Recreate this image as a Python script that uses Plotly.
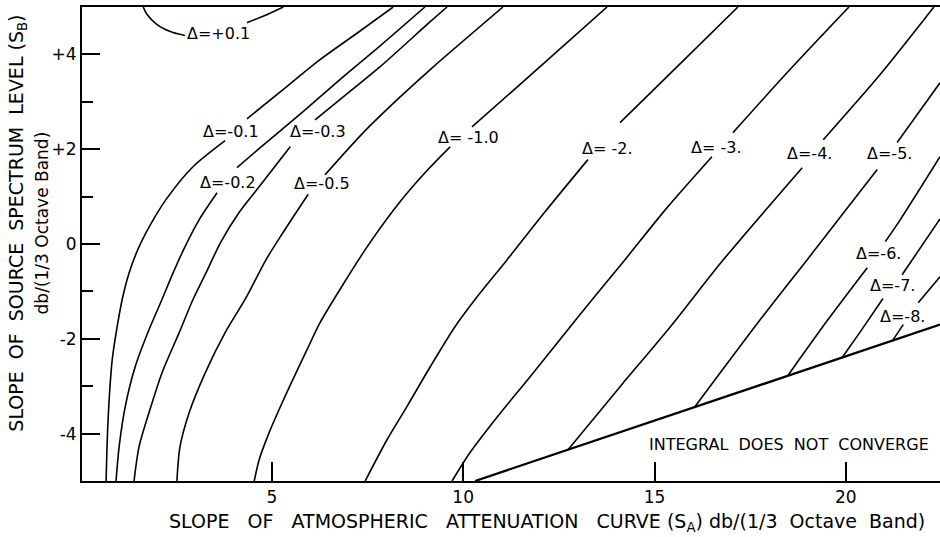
import plotly.graph_objects as go

# x: slope of atmospheric attenuation curve S_A ; y: slope of source spectrum level S_B
# None marks the gap where the curve label sits
P01_X = [1.64, 1.74, 2.00, 2.42, 2.73, None, 4.35, 4.82, 5.30]
P01_Y = [5.00, 4.84, 4.63, 4.46, 4.40, None, 4.67, 4.82, 5.00]

M01_X = [0.67, 0.70, 0.75, 0.83, 0.96, 1.09, 1.27, 1.53, 1.90, 2.29, 2.94, 3.78, None, 4.35, 5.22, 6.26, 7.18, 8.17]
M01_Y = [-5.0, -4.13, -3.28, -2.44, -1.74, -1.17, -0.61, -0.06, 0.51, 1.00, 1.63, 2.18, None, 2.64, 3.21, 3.89, 4.42, 5.0]

M02_X = [0.93, 1.01, 1.17, 1.43, 1.79, 2.13, 2.42, 2.73, 3.10, 3.57, None, 4.09, 4.75, 5.74, 6.78, 7.83, 9.00]
M02_Y = [-5.0, -4.28, -3.43, -2.59, -1.81, -1.17, -0.61, -0.06, 0.51, 1.08, None, 1.61, 2.07, 2.74, 3.47, 4.18, 5.0]

M03_X = [1.40, 1.53, 1.79, 2.13, 2.58, 2.94, 3.28, 3.66, 4.14, 4.75, 5.48, None, 6.13, 6.97, 7.83, 9.14, 9.58]
M03_Y = [-5.0, -4.28, -3.56, -2.72, -1.87, -1.17, -0.61, 0.03, 0.66, 1.29, 2.05, None, 2.62, 3.17, 3.74, 4.69, 5.0]

M05_X = [2.52, 2.60, 2.84, 3.26, 3.78, 4.30, 4.85, 5.22, 5.95, None, 6.39, 7.39, 8.27, 9.14, 11.04]
M05_Y = [-5.0, -4.28, -3.56, -2.72, -1.87, -1.17, -0.33, 0.15, 1.05, None, 1.46, 2.35, 3.04, 3.68, 5.0]

M10_X = [4.54, 4.67, 4.93, 5.27, 5.92, 6.26, 6.78, 7.49, 8.33, 9.08, 9.66, None, 10.23, 12.01, 13.76]
M10_Y = [-5.0, -4.55, -3.98, -3.35, -2.23, -1.66, -0.96, -0.06, 0.87, 1.57, 2.05, None, 2.47, 3.74, 5.0]

M2_X = [7.44, 8.01, 8.53, 9.14, 9.79, 10.31, 11.15, 12.14, 13.26, None, 14.10, 15.64, 17.18]
M2_Y = [-5.0, -4.13, -3.43, -2.59, -1.74, -1.17, -0.33, 0.68, 1.78, None, 2.56, 3.78, 5.0]

M3_X = [9.71, 10.18, 10.89, 11.75, 12.98, 14.23, 15.28, 16.50, None, 17.05, 18.54, 20.08]
M3_Y = [-5.0, -4.40, -3.65, -2.80, -1.56, -0.33, 0.72, 1.84, None, 2.35, 3.68, 5.0]

M4_X = [12.74, 14.10, 15.42, 16.76, 18.86, None, 19.41, 20.89, 22.30]
M4_Y = [-4.34, -3.01, -1.74, -0.37, 1.61, None, 2.20, 3.57, 5.0]

M5_X = [16.06, 17.76, 18.99, 19.80, 20.82, None, 21.34, 22.46]
M5_Y = [-3.43, -1.60, -0.33, 0.51, 1.57, None, 2.14, 3.40]

M6_X = [18.49, 19.51, 20.56, None, 21.03, 21.42, 22.46]
M6_Y = [-2.77, -1.62, -0.50, None, 0.05, 0.51, 1.84]

M7_X = [19.90, 20.43, 20.97, None, 21.47, 22.46]
M7_Y = [-2.40, -1.79, -1.15, None, -0.65, 0.53]

M8_X = [21.21, 21.50, None, 21.89, 22.46]
M8_Y = [-2.05, -1.70, None, -1.24, -0.69]

LIMIT_X = [10.31, 22.46]
LIMIT_Y = [-5.0, -1.70]

LABELS = ["Δ=+0.1", "Δ=-0.1", "Δ=-0.2", "Δ=-0.3", "Δ=-0.5", "Δ= -1.0", "Δ= -2.",
          "Δ= -3.", "Δ=-4.", "Δ=-5.", "Δ=-6.", "Δ=-7.", "Δ=-8."]
LABEL_X = [3.60, 3.94, 3.86, 6.21, 6.31, 10.13, 13.76, 16.61, 19.04, 21.13, 20.84, 21.21, 21.49]
LABEL_Y = [4.44, 2.37, 1.29, 2.37, 1.27, 2.24, 2.01, 2.03, 1.90, 1.90, -0.20, -0.88, -1.53]

X_TICKS = [5, 10, 15, 20]
X_TICKTEXT = ["5", "10", "15", "20"]
Y_TICKS = [-4, -2, 0, 2, 4]
Y_TICKTEXT = ["-4", "-2", "0", "+2", "+4"]
Y_MINOR = [-3, -1, 1, 3]

FONT = "DejaVu Sans"
G3 = " \u00a0\u00a0"
G2 = " \u00a0"

fig = go.Figure()
curves = [(P01_X, P01_Y), (M01_X, M01_Y), (M02_X, M02_Y), (M03_X, M03_Y), (M05_X, M05_Y),
          (M10_X, M10_Y), (M2_X, M2_Y), (M3_X, M3_Y), (M4_X, M4_Y), (M5_X, M5_Y),
          (M6_X, M6_Y), (M7_X, M7_Y), (M8_X, M8_Y)]
for xs, ys in curves:
    fig.add_trace(go.Scatter(x=xs, y=ys, mode="lines",
                             line=dict(color="black", width=1.6, shape="spline", smoothing=0.8),
                             connectgaps=False, showlegend=False, hoverinfo="skip"))
fig.add_trace(go.Scatter(x=LIMIT_X, y=LIMIT_Y, mode="lines",
                         line=dict(color="black", width=2.3), showlegend=False, hoverinfo="skip"))

for t, x, y in zip(LABELS, LABEL_X, LABEL_Y):
    fig.add_annotation(x=x, y=y, text=t, showarrow=False, xanchor="center", yanchor="middle",
                       font=dict(family=FONT, size=16, color="black"))

fig.add_annotation(x=18.52, y=-4.23, text="INTEGRAL" + G2 + "DOES" + G2 + "NOT" + G2 + "CONVERGE",
                   showarrow=False, xanchor="center", yanchor="middle",
                   font=dict(family=FONT, size=16, color="black"))

fig.add_annotation(xref="paper", yref="paper", x=0.5425, y=-0.088,
                   text="SLOPE" + G3 + "OF" + G3 + "ATMOSPHERIC" + G3 + "ATTENUATION" + G3
                        + "CURVE (S<sub>A</sub>) db/(1/3" + G2 + "Octave" + G2 + "Band)",
                   showarrow=False, xanchor="center", yanchor="middle",
                   font=dict(family=FONT, size=19, color="black"))
fig.add_annotation(xref="paper", yref="paper", x=-0.0618, y=0.545, textangle=-90,
                   text="SLOPE" + G2 + "OF" + G2 + "SOURCE" + G2 + "SPECTRUM" + G2 + "LEVEL (S<sub>B</sub>)"
                        + "<br><span style='font-size:17px'>db/(1/3 Octave Band)</span>",
                   showarrow=False, xanchor="center", yanchor="middle", align="center",
                   font=dict(family=FONT, size=19, color="black"))

fig.update_layout(
    width=940, height=537, autosize=False,
    margin=dict(l=82, r=0, t=7, b=56),
    paper_bgcolor="white", plot_bgcolor="white",
    xaxis=dict(range=[0.04, 22.46], showgrid=False, zeroline=False, showline=True,
               linecolor="black", linewidth=2, mirror=True, ticks="inside", ticklen=19,
               tickwidth=2, tickcolor="black", tickvals=X_TICKS, ticktext=X_TICKTEXT,
               tickfont=dict(family=FONT, size=17, color="black")),
    yaxis=dict(range=[-5, 5], showgrid=False, zeroline=False, showline=True,
               linecolor="black", linewidth=2, ticks="inside", ticklen=18, tickwidth=2,
               tickcolor="black", tickvals=Y_TICKS, ticktext=Y_TICKTEXT,
               tickfont=dict(family=FONT, size=17, color="black"),
               minor=dict(tickmode="array", tickvals=Y_MINOR, ticks="inside", ticklen=11,
                          tickwidth=2, tickcolor="black")),
)

fig.write_html("out.html", config={"displayModeBar": False},
               post_script="document.body.style.margin='0';document.body.style.overflow='hidden';")
